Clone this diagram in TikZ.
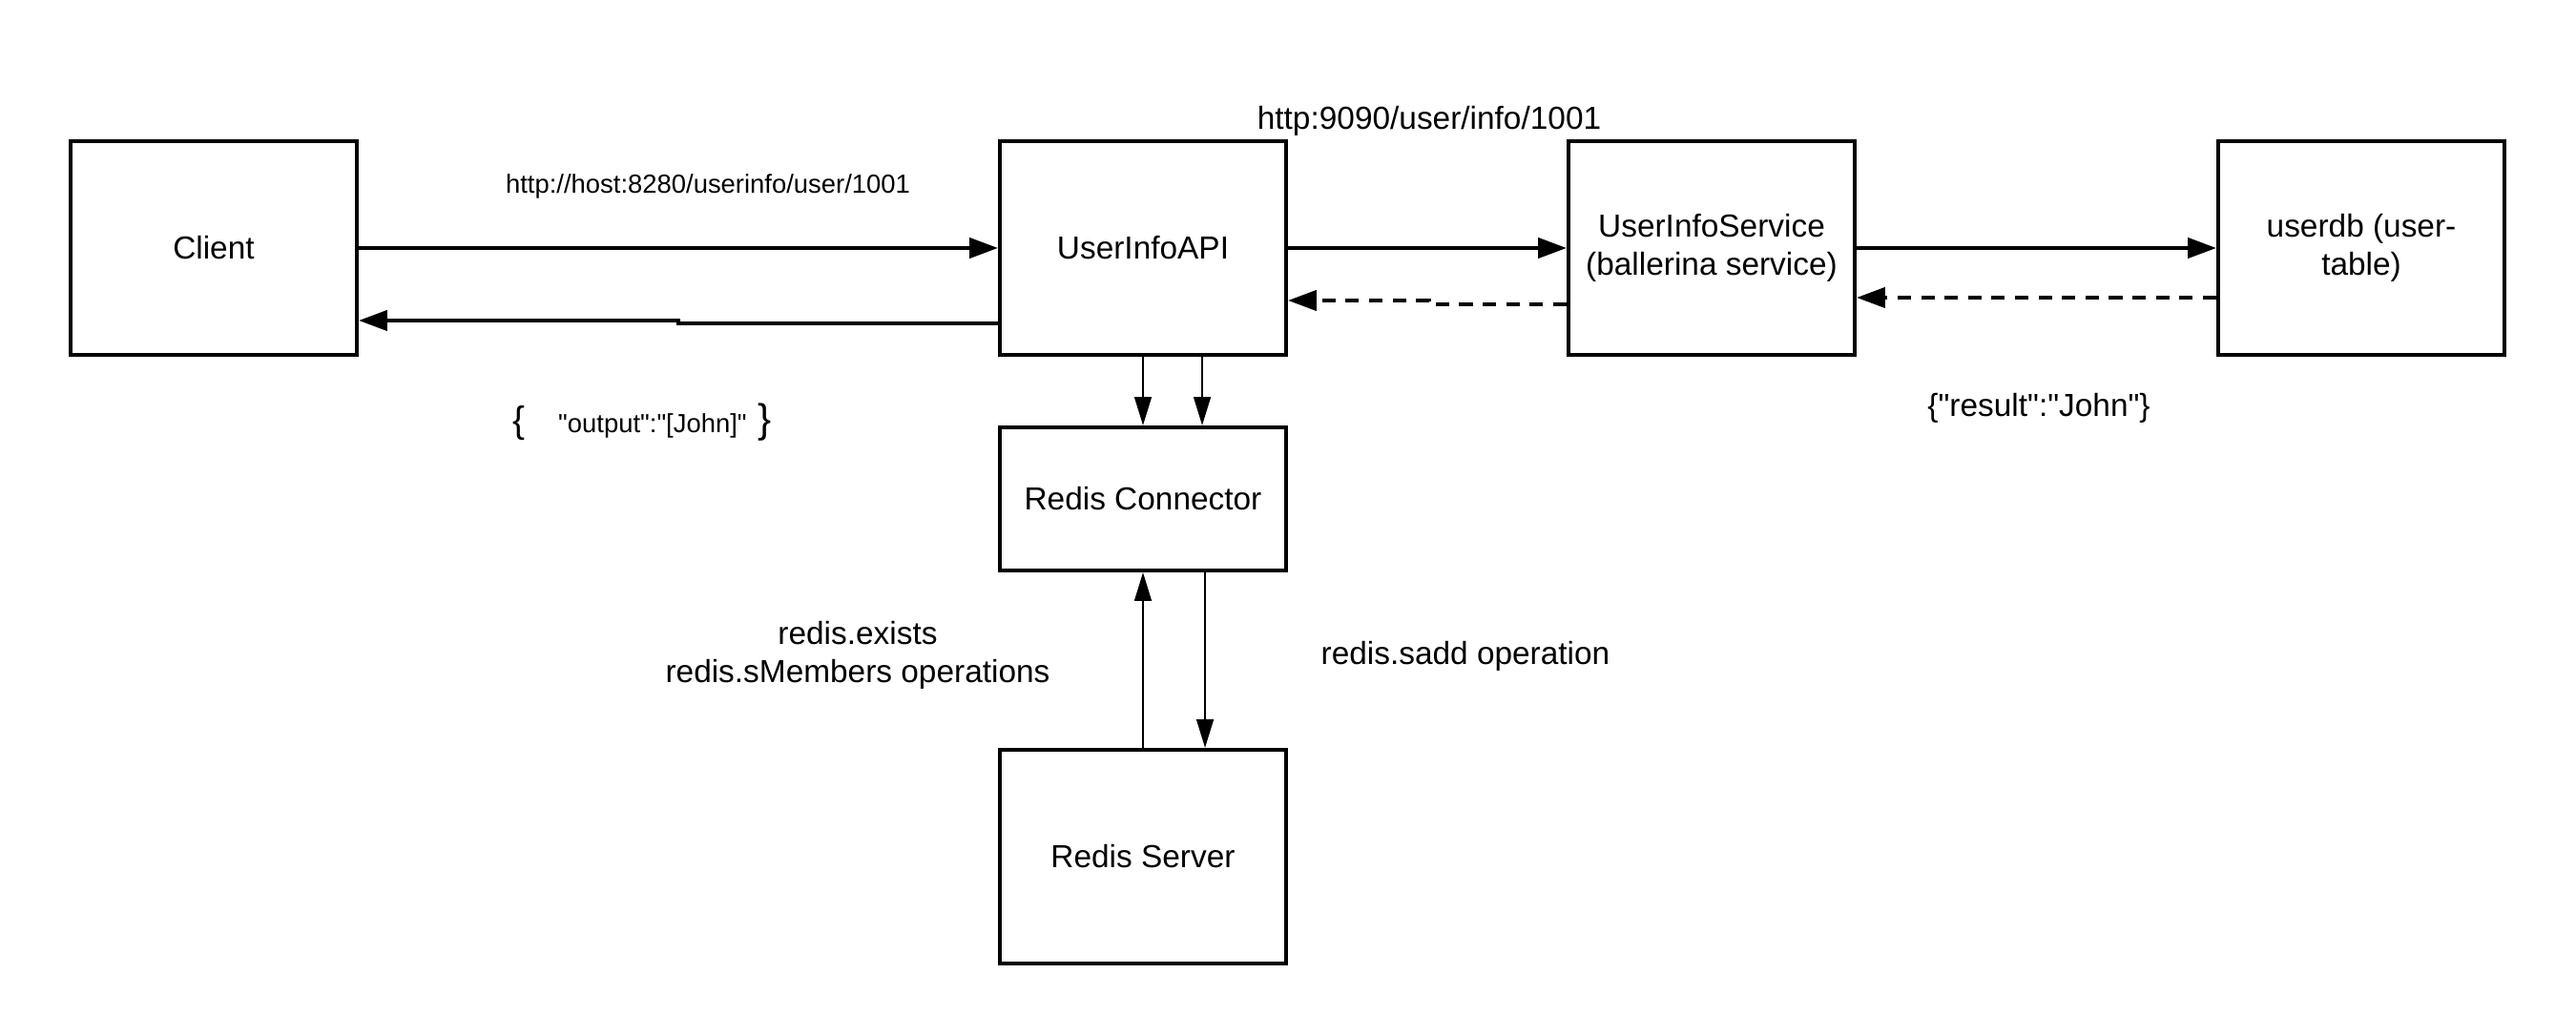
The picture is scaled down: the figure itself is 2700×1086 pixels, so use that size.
\documentclass[tikz,border=0pt]{standalone}
\usepackage{fontspec}
\setmainfont{Liberation Sans}[Ligatures=TeXOff]
\usepackage{tikz}
\usetikzlibrary{arrows.meta, positioning}

\begin{document}
\begin{tikzpicture}[
		x=0.01cm, y=-0.01cm,
		font=\fontsize{9.5}{11.3}\selectfont,
		box/.style={
				draw,
				line width=1.1pt,
				minimum width=3cm,
				minimum height=2.24cm,
				align=center
			},
		arr/.style={line width=1.1pt, -{Triangle[length=8.5pt, width=6pt]}},
		varr/.style={line width=0.8pt, -{Triangle[length=8.5pt, width=5pt]}},
		back/.style={arr, dashed, dash pattern=on 4pt off 3pt},
		small/.style={font=\fontsize{7.8}{9.5}\selectfont}
	]
	\useasboundingbox (0,0) rectangle (2700,1086);

	\node[box] (client) at (224, 260) {Client};
	\node[box] (api) at (1198, 260) {UserInfoAPI};
	\node[box] (svc) at (1794, 260) {UserInfoService\\(ballerina service)};
	\node[box] (db) at (2475, 260) {userdb (user-\\table)};
	\node[box, minimum height=1.5cm] (rconn) at (1198, 523) {Redis Connector};
	\node[box] (rsrv) at (1198, 898) {Redis Server};

	% labels
	\node[small] (urlin) at (742, 195) {http://host:8280/userinfo/user/1001};
	\node (urlsvc) at (1498, 127) {http:9090/user/info/1001};
	\node (out) at (673, 443) {{\fontsize{11}{12}\selectfont\{}\hspace{0.35cm}{\fontsize{7.8}{9.5}\selectfont "output":"[John]"}\hspace{0.12cm}{\fontsize{12}{13}\selectfont\}}};
	\node (res) at (2137, 428) {\{"result":"John"\}};
	\node[align=center] (ops) at (899, 687) {redis.exists\\redis.sMembers operations};
	\node (sadd) at (1536, 688) {redis.sadd operation};

	% requests
	\draw[arr] (client) -- (api);
	\draw[arr] (api) -- (svc);
	\draw[arr] (svc) -- (db);

	% responses
	\draw[arr] (api.west |- 0,339) -- (711,339) -- (711,336) -- (client.east |- 0,336);
	\draw[back] (svc.west |- 0,319) -- (1498,319) -- (1498,315) -- (api.east |- 0,315);
	\draw[back] (db.west |- 0,312) -- (svc.east |- 0,312);

	% redis
	\draw[varr] (api.south) -- (rconn.north);
	\draw[varr] ([xshift=0.62cm]api.south) -- ([xshift=0.62cm]rconn.north);
	\draw[varr] (rsrv.north) -- (rconn.south);
	\draw[varr] ([xshift=0.65cm]rconn.south) -- ([xshift=0.65cm]rsrv.north);
\end{tikzpicture}
\end{document}
